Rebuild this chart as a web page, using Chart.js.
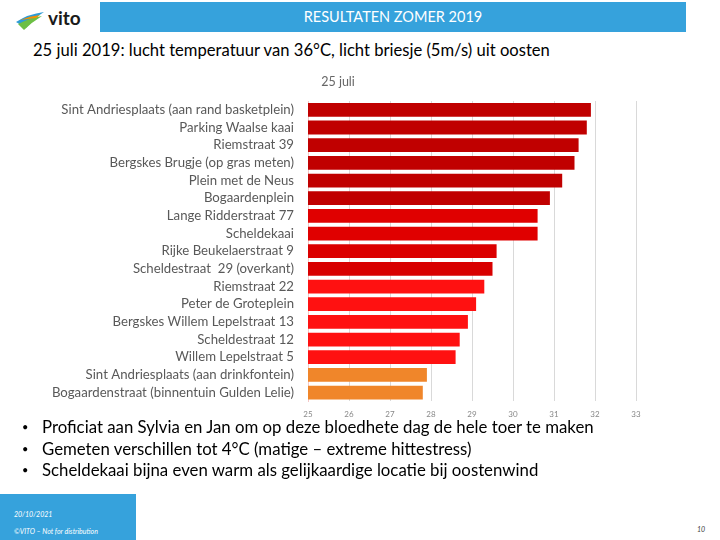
<!DOCTYPE html>
<html>
<head>
<meta charset="utf-8">
<script src="https://cdn.jsdelivr.net/npm/chart.js@4"></script>
<style>
  body { margin: 0; width: 720px; height: 540px; background: #fff; font-family: Lato, sans-serif; position: relative; overflow: hidden; }
  .header { position: absolute; left: 100px; top: 2px; width: 586px; height: 30px; background: #36a2dc; color: #fff; font-size: 14.5px; text-align: center; line-height: 30px; }
  .logo { position: absolute; left: 14px; top: 6px; }
  .sub { position: absolute; left: 33px; top: 40px; font-size: 16.6px; color: #000; }
  .chartbox { position: absolute; left: 40px; top: 71px; width: 620px; height: 356px; }
  ul { position: absolute; left: 22px; top: 416px; margin: 0; padding: 0; list-style: none; font-size: 16.8px; }
  li { height: 21.5px; }
  li span { display: inline-block; width: 20px; font-size: 11px; vertical-align: 2px; }
  .foot { position: absolute; left: 0; top: 494px; width: 136px; height: 46px; background: #36a2dc; color: #fff; font-size: 7px; font-style: italic; }
  .page { position: absolute; left: 697px; top: 525px; font-size: 7px; font-style: italic; color: #444; }
</style>
</head>
<body>
<svg class="logo" width="80" height="24" viewBox="0 0 80 24">
  <path d="M2 16 Q14 8 30 6 Q20 12 12 22 Z" fill="#2e9bd6"/>
  <path d="M4 18 Q16 12 28 10 Q18 16 10 24 Z" fill="#6cbf45"/>
  <path d="M6 14 Q16 10 26 9 L22 12 Z" fill="#f39200"/>
  <text x="34" y="19" font-family="Lato, sans-serif" font-weight="bold" font-size="19" fill="#1a1a1a">vito</text>
</svg>
<div class="header">RESULTATEN ZOMER 2019</div>
<div class="sub">25 juli 2019: lucht temperatuur van 36°C, licht briesje (5m/s) uit oosten</div>
<div class="chartbox"><canvas id="chart" width="620" height="356"></canvas></div>
<ul>
  <li><span>•</span>Proficiat aan Sylvia en Jan om op deze bloedhete dag de hele toer te maken</li>
  <li><span>•</span>Gemeten verschillen tot 4°C (matige – extreme hittestress)</li>
  <li><span>•</span>Scheldekaai bijna even warm als gelijkaardige locatie bij oostenwind</li>
</ul>
<div class="foot"><div style="position:absolute;left:14px;top:16px">20/10/2021</div><div style="position:absolute;left:14px;top:33px">©VITO – Not for distribution</div></div>
<div class="page">10</div>
<script>
const locaties = [
  'Sint Andriesplaats (aan rand basketplein)',
  'Parking Waalse kaai',
  'Riemstraat 39',
  'Bergskes Brugje (op gras meten)',
  'Plein met de Neus',
  'Bogaardenplein',
  'Lange Ridderstraat 77',
  'Scheldekaai',
  'Rijke Beukelaerstraat 9',
  'Scheldestraat  29 (overkant)',
  'Riemstraat 22',
  'Peter de Groteplein',
  'Bergskes Willem Lepelstraat 13',
  'Scheldestraat 12',
  'Willem Lepelstraat 5',
  'Sint Andriesplaats (aan drinkfontein)',
  'Bogaardenstraat (binnentuin Gulden Lelie)'
];
const temperaturen = [31.9, 31.8, 31.6, 31.5, 31.2, 30.9, 30.6, 30.6, 29.6, 29.5, 29.3, 29.1, 28.9, 28.7, 28.6, 27.9, 27.8];
const kleuren = [
  '#c00000', '#c00000', '#c00000', '#c00000', '#c00000', '#c00000',
  '#e00000', '#e00000', '#db0000', '#d80000',
  '#ff1111', '#ff1111', '#ff1111', '#ff1111', '#ff1111',
  '#f0862a', '#f0862a'
];
const xTicks = [25, 26, 27, 28, 29, 30, 31, 32, 33];

var ctx = document.getElementById('chart').getContext('2d');
var chart = new Chart(ctx, {
    type: 'bar',
    data: {
        labels: locaties,
        datasets: [{
            label: '25 juli',
            data: temperaturen,
            backgroundColor: kleuren,
            barPercentage: 0.78,
            categoryPercentage: 1
        }]
    },
    options: {
        indexAxis: 'y',
        responsive: false,
        animation: false,
        layout: { padding: { top: 0, right: 24, bottom: 0, left: 0 } },
        plugins: {
            legend: { display: false },
            tooltip: { enabled: false },
            title: {
                display: true,
                text: '25 juli',
                color: '#666',
                font: { family: 'Lato', size: 12.5, weight: 'normal' },
                padding: { top: 3, bottom: 12 }
            }
        },
        scales: {
            x: {
                min: 25,
                max: 33,
                afterBuildTicks: (scale) => { scale.ticks = xTicks.map(v => ({ value: v })); },
                grid: { color: '#d9d9d9', drawTicks: false },
                border: { display: false },
                ticks: { color: '#888', font: { family: 'Lato', size: 8 }, padding: 8, maxRotation: 0 }
            },
            y: {
                afterFit: (scale) => { scale.width = 268; },
                grid: { display: false },
                border: { color: '#f4c8c8' },
                ticks: { color: '#595959', font: { family: 'Lato', size: 13.2 }, padding: 6, autoSkip: false }
            }
        }
    }
});
</script>
</body>
</html>
